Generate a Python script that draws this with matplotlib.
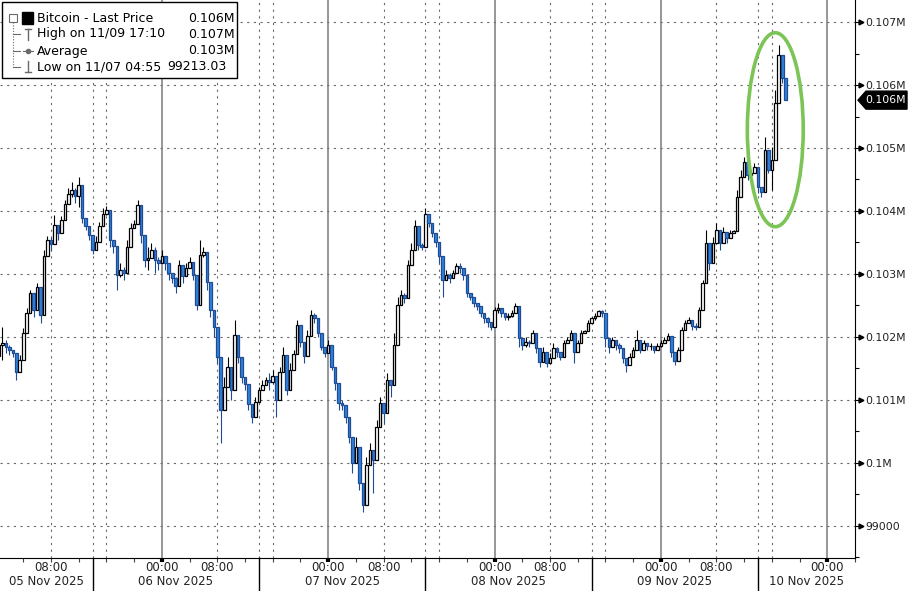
import numpy as np
import pandas as pd
import matplotlib
matplotlib.use('Agg')
import matplotlib.pyplot as plt
import matplotlib.dates as mdates
import matplotlib.transforms as mtransforms
from matplotlib.patches import Ellipse, Rectangle, Polygon
from matplotlib.lines import Line2D

plt.rcParams['font.family'] = ['DejaVu Sans']
plt.rcParams['font.size'] = 8

###########################################################
# data: 30 min bars, Bitcoin

start = '2025-11-05 00:30'
first_open = 101700

closes = [
    101870, 101910, 101840, 101790, 101750, 101440, 101640, 102060, 102380, 102700, 102430, 102790, 102350,
    103290, 103540, 103480, 103780, 103650, 103860, 104110, 104270, 104330, 104240, 104410, 103890, 103760,
    103620, 103380, 103510, 103760, 103950, 104020, 103540, 103440, 102980, 103060, 103020, 103430,
    103730, 103790, 104100, 103620, 103220, 103250, 103380, 103220, 103180, 103290, 103180, 103020, 102940,
    102810, 103140, 102970, 103100, 103190, 102980, 102510, 103300, 103350, 102870, 102430, 102160,
    101680, 100840, 101210, 101520, 101160, 102030, 101680, 101370, 101250, 100940, 100730, 100970, 101160,
    101240, 101320, 101290, 101380, 101000, 101440, 101710, 101160, 101480, 101730, 102190, 101920, 101700,
    102020, 102350,
    102300, 102060, 101840, 101750, 101870, 101520, 101270, 100950, 100920, 100730, 100410, 100000, 100250,
    99680, 99330, 99970, 100210, 100050, 100570, 100950, 100790, 101320, 101240, 101870, 102510, 102670, 102620,
    103140, 103380, 103760, 103460, 103430, 103950, 103810, 103650, 103510, 103290, 102910, 102980, 102940,
    103020, 103130, 103100, 102980, 102700, 102640, 102540, 102490, 102380, 102300, 102240, 102160,
    102430, 102460, 102380, 102320, 102330, 102380, 102490, 101980, 101870, 101920, 101910, 102060, 101830,
    101600, 101760, 101590, 101670, 101830, 101760, 101680, 101910, 101950, 102060, 101760, 101910,
    102060, 102100, 102220, 102300, 102330, 102410, 102380, 101980, 101840, 101950, 101870, 101830, 101670,
    101560, 101680, 101790, 101950, 101790, 101910, 101860, 101860, 101790, 101860, 101910, 101950,
    102020, 101760, 101620, 101790, 102110, 102220, 102270, 102180, 102160, 102430, 102860, 103490, 103180,
    103490, 103700, 103490, 103670, 103570, 103650, 103680, 104220, 104540, 104780, 104570, 104600,
    104700, 104380, 104300, 104970, 104650, 104810, 105710, 106480, 106110, 105760,
]

highs = [
    102110, 102160, 101950, 101870, 101790, 101640, 101710, 102140, 102460, 102750, 102540, 102860, 102590,
    103380, 103600, 103590, 103940, 103750, 103920, 104180, 104370, 104460, 104370, 104540, 103980, 103830,
    103700, 103440, 103600, 103830, 104050, 104080, 103670, 103540, 103190, 103180, 103110, 103540,
    103810, 103860, 104180, 103750, 103330, 103430, 103490, 103430, 103270, 103380, 103270, 103110, 103020,
    102950, 103220, 103060, 103180, 103270, 103060, 102590, 103540, 103430, 103020, 102540, 102320,
    101790, 101160, 101370, 101680, 101370, 102270, 101790, 101480, 101370, 101050, 100840, 101050, 101210,
    101320, 101370, 101430, 101480, 101160, 101520, 101840, 101240, 101590, 101790, 102270, 102000, 101790,
    102110, 102430,
    102380, 102110, 101910, 101790, 101950, 101590, 101370, 101050, 101000, 100840, 100520, 100160, 100410,
    99780, 99460, 100100, 100320, 100210, 100680, 101050, 100950, 101430, 101270, 102060, 102640, 102750, 102700,
    103220, 103490, 103860, 103540, 103490, 104050, 103860, 103700, 103590, 103380, 103060, 103060, 103020,
    103060, 103180, 103180, 103060, 102750, 102700, 102590, 102540, 102430, 102380, 102320, 102220,
    102480, 102540, 102430, 102380, 102380, 102430, 102540, 102060, 101950, 102000, 101950, 102110, 101910,
    101680, 101840, 101640, 101750, 101910, 101840, 101750, 101950, 102000, 102110, 101910, 101950,
    102110, 102110, 102270, 102320, 102380, 102430, 102430, 102110, 101950, 102000, 101950, 101910, 101750,
    101640, 101750, 101840, 102110, 101840, 101950, 101910, 101910, 101840, 101910, 101950, 102000,
    102060, 101840, 101680, 101840, 102160, 102270, 102320, 102220, 102220, 102480, 102910, 103700, 103270,
    103590, 103810, 103590, 103750, 103650, 103700, 103700, 104330, 104650, 104860, 104650, 104650,
    104760, 104490, 104380, 105180, 104700, 105020, 105920, 106640, 106190, 105920,
]

lows = [
    101640, 101640, 101750, 101710, 101680, 101320, 101560, 101980, 102300, 102620, 102320, 102710, 102220,
    103220, 103480, 103380, 103650, 103540, 103790, 104050, 104180, 104220, 104130, 104060, 103810, 103700,
    103540, 103320, 103430, 103700, 103860, 103940, 103430, 103330, 102750, 102950, 102910, 103330,
    103670, 103730, 103980, 103490, 103110, 103060, 103270, 103020, 103060, 103180, 103060, 102910, 102860,
    102700, 103060, 102860, 103020, 103110, 102910, 102430, 103180, 103270, 102750, 102320, 102000,
    101590, 100320, 101050, 101370, 101000, 101910, 101590, 101270, 101160, 100840, 100640, 100890, 101110,
    101160, 101270, 101160, 101270, 100730, 101370, 101590, 101080, 101370, 101680, 102110, 101840, 101590,
    101910, 102270,
    102220, 102000, 101790, 101680, 101790, 101480, 101160, 100840, 100840, 100640, 100320, 99840, 100100,
    99570, 99213, 99840, 100100, 99520, 100480, 100840, 100640, 101210, 101050, 101590, 102320, 102590, 102540,
    103060, 103270, 103650, 103380, 103380, 103860, 103750, 103590, 103430, 103180, 102640, 102910, 102860,
    102950, 103060, 103020, 102910, 102640, 102590, 102480, 102430, 102320, 102220, 102160, 102110,
    102380, 102380, 102320, 102270, 102270, 102320, 102430, 101840, 101790, 101840, 101840, 102000, 101750,
    101520, 101680, 101520, 101590, 101750, 101680, 101640, 101840, 101910, 102000, 101590, 101840,
    102000, 102060, 102160, 102270, 102270, 102380, 102320, 101840, 101750, 101910, 101790, 101750, 101590,
    101440, 101640, 101750, 101840, 101750, 101840, 101790, 101790, 101750, 101790, 101840, 101910,
    101950, 101680, 101560, 101750, 102060, 102160, 102220, 102110, 102110, 102380, 102790, 103270, 103060,
    103380, 103590, 103380, 103590, 103490, 103590, 103650, 104130, 104440, 104700, 104490, 104540,
    104650, 104290, 104220, 104760, 104600, 104330, 105490, 106350, 106030, 105760,
]

legend_rows = ['Bitcoin - Last Price', 'High on 11/09 17:10', 'Average', 'Low on 11/07 04:55']
legend_vals = ['0.106M', '0.107M', '0.103M', '99213.03']

days = ['2025-11-05', '2025-11-06', '2025-11-07', '2025-11-08', '2025-11-09', '2025-11-10']
x_start, x_end = '2025-11-05 00:39', '2025-11-10 04:00'
y_lo, y_hi = 98490, 107350

# green ring round the spike
ring_center = ('2025-11-09 16:30', 105290)
ring_w, ring_h = 0.336, 3080

###########################################################

W, H = 908, 591
fig = plt.figure(figsize=(W / 100, H / 100), dpi=100)
ax = fig.add_axes([0, 33 / H, 855 / W, 558 / H])

closes = np.array(closes, float)
highs = np.array(highs, float)
lows = np.array(lows, float)
opens = np.r_[first_open, closes[:-1]]
highs = np.maximum(highs, np.maximum(opens, closes))
lows = np.minimum(lows, np.minimum(opens, closes))

times = pd.date_range(start, periods=len(closes), freq='30min')
x = mdates.date2num(times)

up = closes >= opens
blue = '#2f84dc'
navy = '#1f4a94'
wick_col = np.where(up, 'black', navy)
face = np.where(up, 'white', blue)
edge = np.where(up, 'black', navy)

ax.vlines(x, lows, highs, colors=wick_col, lw=0.8, zorder=3)
ax.bar(x, np.abs(closes - opens), bottom=np.minimum(opens, closes), width=0.0155,
       color=face, edgecolor=edge, lw=0.9, zorder=4)

# grid
dot = (0, (2, 4))
for p in range(99000, 107001, 1000):
    ax.axhline(p, color='#6a6a6a', lw=0.8, ls=dot, zorder=1)
for d in days:
    d = pd.Timestamp(d)
    for hh in (8, 14, 16):
        ax.axvline(mdates.date2num(d + pd.Timedelta(hours=hh)), color='#6a6a6a', lw=0.8, ls=dot, zorder=1)
    ax.axvline(mdates.date2num(d), color='#7a7a7a', lw=1.1, zorder=1)

x0, x1 = mdates.date2num(pd.Timestamp(x_start)), mdates.date2num(pd.Timestamp(x_end))
ax.set_xlim(x0, x1)
ax.set_ylim(y_lo, y_hi)

# ellipse
ell = Ellipse((mdates.date2num(pd.Timestamp(ring_center[0])), ring_center[1]), ring_w, ring_h,
              fill=False, ec='#7cc456', lw=2.6, zorder=6)
ax.add_patch(ell)

for s in ['left', 'top']:
    ax.spines[s].set_visible(False)
ax.spines['right'].set_color('black')
ax.spines['bottom'].set_color('black')

# x axis ticks and labels
ax.xaxis.set_major_locator(mdates.DayLocator())
ax.xaxis.set_minor_locator(mdates.HourLocator(byhour=range(0, 24, 4)))
ax.xaxis.set_major_formatter(plt.NullFormatter())
ax.tick_params(axis='x', which='major', length=3, width=3, color='black')
ax.tick_params(axis='x', which='minor', length=3, width=0.8, color='#444')

bt = mtransforms.blended_transform_factory(ax.transData, ax.transAxes)
for d in days:
    d = pd.Timestamp(d)
    for hh in (0, 8):
        t = mdates.date2num(d + pd.Timedelta(hours=hh))
        if x0 + 0.05 < t < x1 - 0.05:
            ax.text(t, -9.5 / 558, '%02d:00' % hh, transform=bt, ha='center', va='center',
                    fontsize=8.5, color='#222')
    sep_l = mdates.date2num(d - pd.Timedelta(hours=10))
    sep_r = mdates.date2num(d + pd.Timedelta(hours=14))
    if x0 < sep_r < x1:
        ax.plot([sep_r, sep_r], [0, -33 / 558], transform=bt, color='black', lw=1, clip_on=False)
    cx = (max(sep_l, x0) + min(sep_r, x1)) / 2
    ax.text(cx, -23.5 / 558, d.strftime('%d %b %Y'), transform=bt, ha='center', va='center',
            fontsize=8.5, color='#222')

# y axis on the right
def fmt_price(v, pos=None):
    if v >= 99999:
        return '%gM' % round(v / 1e6, 3)
    return '%d' % v

ax.yaxis.tick_right()
ax.yaxis.set_major_locator(plt.MultipleLocator(1000))
ax.yaxis.set_minor_locator(plt.MultipleLocator(500))
ax.yaxis.set_major_formatter(plt.FuncFormatter(fmt_price))
ax.tick_params(axis='y', which='major', length=4, width=0.8, pad=3.2, labelsize=7.8, labelcolor='#222')
ax.tick_params(axis='y', which='minor', length=3, width=0.8)

ticks = np.arange(99000, 107001, 1000)
arr_tr = mtransforms.offset_copy(mtransforms.blended_transform_factory(ax.transAxes, ax.transData),
                                 fig=fig, x=6, y=0, units='dots')
ax.plot(np.ones(len(ticks)), ticks, ls='none', marker='>', ms=3.5, color='black',
        transform=arr_tr, clip_on=False)

# last price tag
last = closes[-1]
tag_tr = mtransforms.blended_transform_factory(fig.transFigure, ax.transData)
hh = 9 * (y_hi - y_lo) / 558
tag = Polygon([(858 / W, last), (866 / W, last + hh), (907 / W, last + hh),
               (907 / W, last - hh), (866 / W, last - hh)], closed=True,
              fc='black', ec='black', transform=tag_tr, clip_on=False, zorder=10)
fig.patches.append(tag)
fig.text(886 / W, last, fmt_price(round(last, -3)), color='white', fontsize=7.8,
         ha='center', va='center', transform=tag_tr, zorder=11)

# legend box, top left
def px(xp, yp):
    return xp / W, 1 - yp / H

box = Rectangle(px(2, 78), 235 / W, 76 / H, transform=fig.transFigure,
                fc='white', ec='black', lw=1, zorder=20)
fig.patches.append(box)
row_y = [18, 34, 51, 67]
for i, (lab, val) in enumerate(zip(legend_rows, legend_vals)):
    fig.text(*px(37, row_y[i]), lab, ha='left', va='center', fontsize=9, color='black', zorder=21)
    if i < 3:
        fig.text(*px(235, row_y[i]), val, ha='right', va='center', fontsize=9, color='black', zorder=21)
    else:
        fig.text(*px(167, row_y[i]), val, ha='left', va='center', fontsize=9, color='black', zorder=21)

def fline(xs, ys, **kw):
    pts = [px(a, b) for a, b in zip(xs, ys)]
    fig.lines.append(Line2D([p[0] for p in pts], [p[1] for p in pts], transform=fig.transFigure,
                            zorder=21, **kw))

gray = '#6a6a6a'
# tree lines
fline([13, 13], [22, 67], color=gray, lw=0.8, ls=(0, (1, 1.5)))
for yy in row_y[1:]:
    fline([13, 20], [yy, yy], color=gray, lw=0.8)
# collapse box
fig.patches.append(Rectangle(px(9, 22), 8 / W, 8 / H, transform=fig.transFigure,
                             fc='white', ec=gray, lw=0.8, zorder=22))
fline([11, 15], [18, 18], color='black', lw=0.8)
# black square
fig.patches.append(Rectangle(px(22, 24), 11 / W, 12 / H, transform=fig.transFigure,
                             fc='black', ec='black', zorder=22))
# high icon
fline([28, 28], [29, 40], color=gray, lw=1)
fline([25, 31], [29, 29], color=gray, lw=1)
# average icon
fline([23, 33], [51, 51], color=gray, lw=0.8)
fig.lines.append(Line2D([px(28, 51)[0]], [px(28, 51)[1]], marker='o', ms=3, color=gray,
                        transform=fig.transFigure, zorder=22))
# low icon
fline([28, 28], [61, 72], color=gray, lw=1)
fline([25, 31], [72, 72], color=gray, lw=1)

fig.savefig('out.png', dpi=100)
